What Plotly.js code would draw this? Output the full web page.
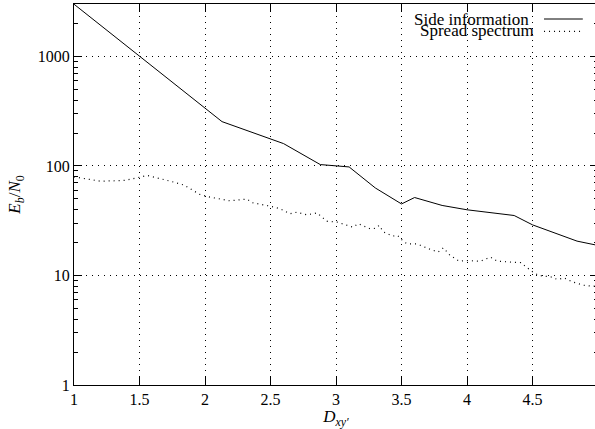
<!DOCTYPE html>
<html>
<head>
<meta charset="utf-8">
<script src="https://cdn.plot.ly/plotly-3.0.1.min.js"></script>
<style>html,body{margin:0;padding:0;overflow:hidden;background:#fff;}</style>
</head>
<body>
<div id="chart" style="width:600px;height:429px;"></div>
<script>
// Side information (solid)
const sideX = [1.0, 1.5, 2.13, 2.6, 2.88, 3.1, 3.3, 3.5, 3.6, 3.81, 4.0, 4.36, 4.5, 4.84, 5.0];
const sideY = [3000, 1000, 254, 160, 103, 98, 63, 45, 51.5, 43.6, 39.8, 35.3, 29, 20.6, 18.8];

// Spread spectrum (dotted)
const spreadX = [1.0, 1.07, 1.2, 1.39, 1.56, 1.735, 1.84, 1.96, 2.04, 2.19, 2.27, 2.32, 2.36, 2.47, 2.5, 2.575, 2.65, 2.7, 2.78, 2.855, 2.93, 3.01, 3.13, 3.17, 3.26, 3.3, 3.33, 3.36, 3.43, 3.47, 3.5, 3.54, 3.62, 3.72, 3.78, 3.82, 3.87, 3.94, 4.0, 4.1, 4.18, 4.23, 4.33, 4.41, 4.46, 4.51, 4.55, 4.64, 4.69, 4.74, 4.81, 4.89, 4.95, 5.0];
const spreadY = [79.6, 77, 72.6, 73.8, 81.9, 72.6, 66.9, 55, 51.9, 48.1, 49.4, 49.8, 46.2, 43.9, 42.9, 40.6, 36.6, 37.8, 35.8, 37.3, 31.3, 30.7, 27.6, 29.7, 26.7, 26.9, 28.7, 25.1, 22.9, 23.2, 21.3, 19.5, 19.4, 17.3, 16.4, 17.9, 15.3, 13.5, 13.7, 13.5, 14.7, 13.5, 13.3, 13.1, 11.75, 10.6, 10.0, 9.7, 9.2, 9.5, 8.7, 8.15, 8.0, 8.0];

const xTicks = [1, 1.5, 2, 2.5, 3, 3.5, 4, 4.5, 5];
const xTickText = ['1', '1.5', '2', '2.5', '3', '3.5', '4', '4.5', '5'];
const yTicks = [1, 10, 100, 1000];
const yTickText = ['1', '10', '100', '1000'];
const yMinor = [2,3,4,5,6,7,8,9,20,30,40,50,60,70,80,90,200,300,400,500,600,700,800,900,2000,3000];
const seriesNames = ['Side information', 'Spread spectrum'];

const serif = 'Liberation Serif, DejaVu Serif, serif';

const traces = [
  {x: sideX, y: sideY, type: 'scatter', mode: 'lines', name: seriesNames[0],
   line: {color: '#000', width: 1}},
  {x: spreadX, y: spreadY, type: 'scatter', mode: 'lines', name: seriesNames[1],
   line: {color: '#000', width: 1.2, dash: '1px,4px'}}
];

const axisCommon = {
  showline: true, linecolor: '#000', linewidth: 1, mirror: 'allticks',
  ticks: 'inside', ticklen: 8, tickwidth: 1, tickcolor: '#000',
  showgrid: true, gridcolor: '#000', gridwidth: 1, griddash: '1px,5px',
  zeroline: false, tickfont: {family: serif, size: 16, color: '#000'}
};

const layout = {
  width: 600, height: 429,
  margin: {l: 74, r: 2, t: 4, b: 44},
  paper_bgcolor: '#fff', plot_bgcolor: '#fff',
  showlegend: false,
  font: {family: serif, color: '#000'},
  xaxis: Object.assign({}, axisCommon, {
    range: [1, 5], tickmode: 'array', tickvals: xTicks, ticktext: xTickText,
    title: {text: '<i>D</i><sub><i>xy′</i></sub>', font: {family: serif, size: 17, color: '#000'}, standoff: 2}
  }),
  yaxis: Object.assign({}, axisCommon, {
    type: 'log', range: [0, 3.479], tickmode: 'array', tickvals: yTicks, ticktext: yTickText,
    minor: {tickmode: 'array', tickvals: yMinor, ticks: 'inside', ticklen: 4, tickcolor: '#000', showgrid: false},
    title: {text: '<i>E</i><sub><i>b</i></sub>/<i>N</i><sub>0</sub>', font: {family: serif, size: 17, color: '#000'}, standoff: 12}
  }),
  annotations: [
    {xref: 'paper', yref: 'paper', x: 0.872, y: 0.9588, xanchor: 'right', yanchor: 'middle',
     text: seriesNames[0], showarrow: false, font: {family: serif, size: 17, color: '#000'}},
    {xref: 'paper', yref: 'paper', x: 0.882, y: 0.931, xanchor: 'right', yanchor: 'middle',
     text: seriesNames[1], showarrow: false, font: {family: serif, size: 17, color: '#000'}}
  ],
  shapes: [
    {type: 'line', xref: 'paper', yref: 'paper', x0: 0.897, x1: 0.971, y0: 0.9606, y1: 0.9606,
     line: {color: '#000', width: 1}},
    {type: 'line', xref: 'paper', yref: 'paper', x0: 0.897, x1: 0.971, y0: 0.9283, y1: 0.9283,
     line: {color: '#000', width: 1.2, dash: '1px,4px'}}
  ]
};

Plotly.newPlot('chart', traces, layout, {staticPlot: true, displayModeBar: false});
</script>
</body>
</html>
